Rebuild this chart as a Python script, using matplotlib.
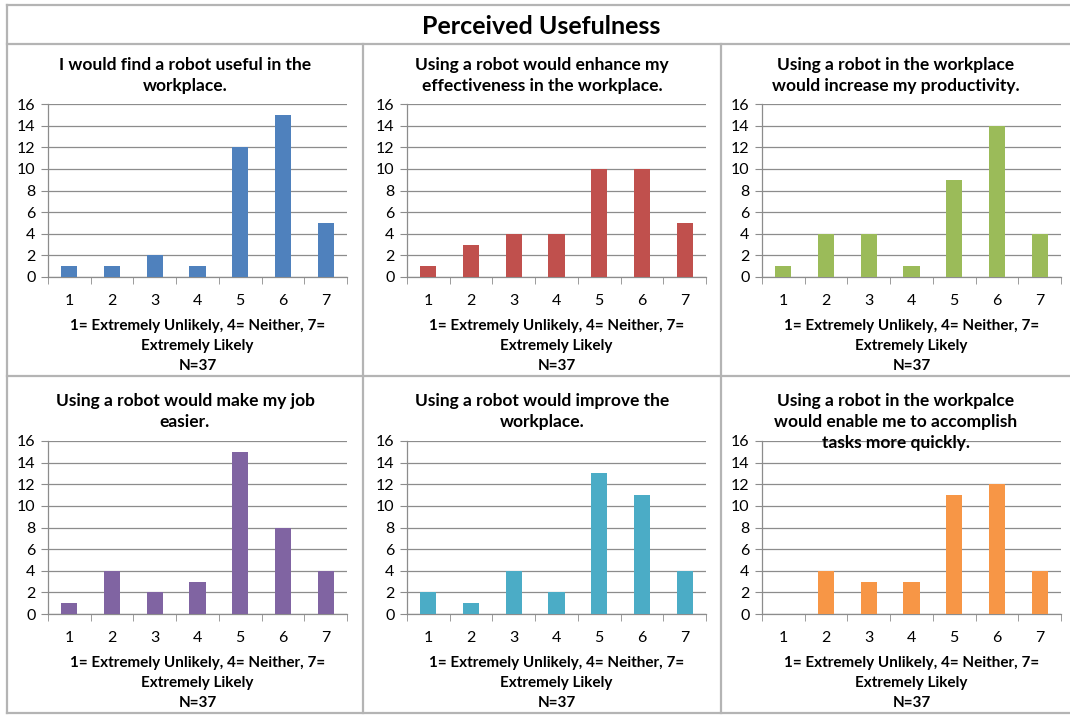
import numpy as np
import matplotlib.pyplot as plt
from matplotlib.lines import Line2D

plt.rcParams['font.family'] = ['Lato', 'DejaVu Sans']

# survey answers per question, counts for scale points 1..7
scale = [1, 2, 3, 4, 5, 6, 7]
useful = [1, 1, 2, 1, 12, 15, 5]
effective = [1, 3, 4, 4, 10, 10, 5]
productive = [1, 4, 4, 1, 9, 14, 4]
easier = [1, 4, 2, 3, 15, 8, 4]
improve = [2, 1, 4, 2, 13, 11, 4]
quicker = [0, 4, 3, 3, 11, 12, 4]

titles = ["I would find a robot useful in the\nworkplace.",
          "Using a robot would enhance my\neffectiveness in the workplace.",
          "Using a robot in the workplace\nwould increase my productivity.",
          "Using a robot would make my job\neasier.",
          "Using a robot would improve the\nworkplace.",
          "Using a robot in the workpalce\nwould enable me to accomplish\ntasks more quickly."]
series = [useful, effective, productive, easier, improve, quicker]
colors = ['#4F81BD', '#C0504D', '#9BBB59', '#8064A2', '#4BACC6', '#F79646']
xlab = "1= Extremely Unlikely, 4= Neither, 7=\nExtremely Likely\nN=37"

W, H = 1070, 715
fig = plt.figure(figsize=(W / 100, H / 100), dpi=100)
fig.patch.set_facecolor('white')

def fx(px): return px / W
def fy(py): return 1 - py / H

# frame lines (pixel coords)
box = '#b4b4b4'
frame = [((7, 1070), (5, 5)), ((7, 1070), (44, 44)), ((7, 7), (5, 713)),
         ((363, 363), (44, 713)), ((721, 721), (44, 713)),
         ((7, 1070), (376, 376)), ((7, 1070), (713, 713))]
for xs, ys in frame:
    fig.add_artist(Line2D([fx(x) for x in xs], [fy(y) for y in ys],
                          color=box, lw=1.6, transform=fig.transFigure))

fig.text(fx(541), fy(27), "Perceived Usefulness", ha='center', va='center',
         fontsize=18, fontweight='bold')

box_l = [7, 363, 721]
box_r = [363, 721, 1070]
ax_l = [48, 407, 762]
ax_w = 299
row_top = [104, 441]
row_bot = [277, 614]
title_top = [57, 393]

for i, (vals, col, ttl) in enumerate(zip(series, colors, titles)):
    r, c = divmod(i, 3)
    ax = fig.add_axes([fx(ax_l[c]), fy(row_bot[r]), fx(ax_w),
                       (row_bot[r] - row_top[r]) / H])
    ax.bar(scale, vals, width=0.38, color=col, zorder=3)
    ax.set_xlim(0.5, 7.5)
    ax.set_ylim(0, 16)
    ax.set_yticks(range(0, 17, 2))
    ax.set_xticks(scale)
    ax.set_xticks(np.arange(0.5, 8, 1), minor=True)
    ax.yaxis.grid(True, color='#8c8c8c', lw=0.9, zorder=0)
    for s in ['top', 'right']:
        ax.spines[s].set_visible(False)
    for s in ['left', 'bottom']:
        ax.spines[s].set_color('#8c8c8c')
        ax.spines[s].set_linewidth(0.9)
    ax.tick_params(axis='x', which='major', length=0, pad=12, labelsize=11.5)
    ax.tick_params(axis='x', which='minor', length=5, color='#8c8c8c',
                   direction='out')
    ax.tick_params(axis='y', length=5, color='#8c8c8c', labelsize=11.5, pad=4)
    ax.set_xlabel(xlab, fontsize=11, fontweight='bold', labelpad=8,
                  linespacing=1.55)
    fig.text(fx((box_l[c] + box_r[c]) / 2), fy(title_top[r]), ttl,
             ha='center', va='top', fontsize=12.5, fontweight='bold',
             linespacing=1.4)

fig.savefig('out.png', dpi=100, facecolor='white')
